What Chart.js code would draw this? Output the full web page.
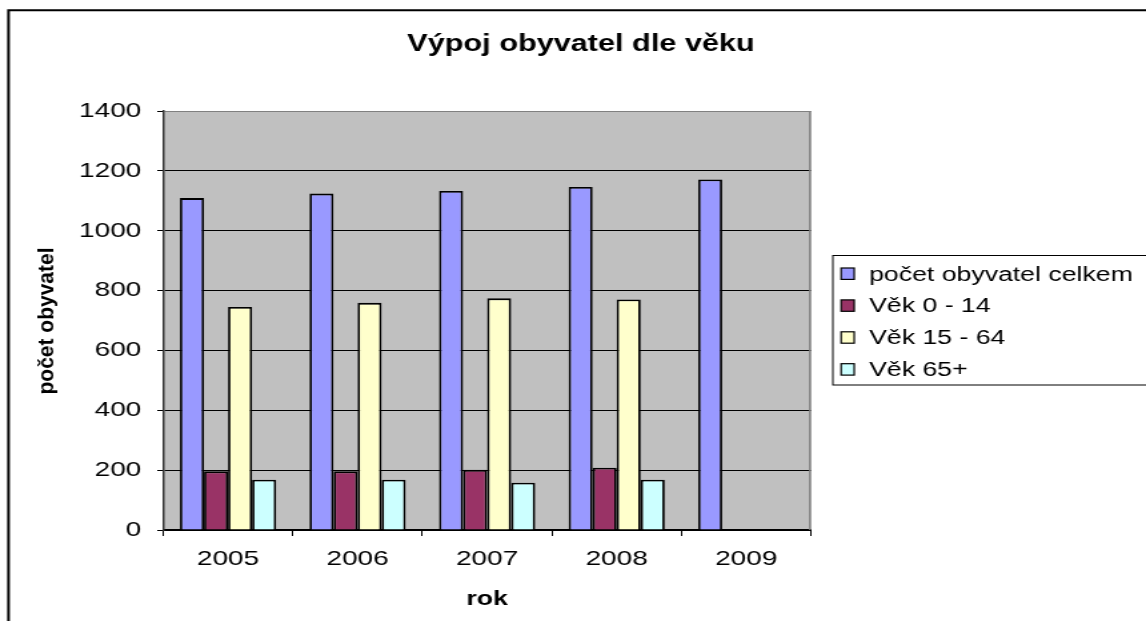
<!DOCTYPE html>
<html><head><meta charset="utf-8">
<script src="https://cdn.jsdelivr.net/npm/chart.js@4/dist/chart.umd.min.js"></script>
<style>html,body{margin:0;padding:0;background:#fff;overflow:hidden}canvas{display:block}</style>
</head><body>
<canvas id="c" width="860" height="621" style="width:1146px;height:621px"></canvas>
<script>
const categories = ['2005', '2006', '2007', '2008', '2009'];
const seriesNames = ['počet obyvatel celkem', 'Věk 0 - 14', 'Věk 15 - 64', 'Věk 65+'];
const totalPop = [1109, 1124, 1133, 1146, 1171];
const age0to14 = [196, 196, 201, 208, null];
const age15to64 = [745, 759, 774, 770, null];
const age65plus = [168, 168, 158, 168, null];
const yTicks = [0, 200, 400, 600, 800, 1000, 1200, 1400];
const chartTitle = 'Výpoj obyvatel dle věku';
const yAxisTitle = 'počet obyvatel';
const xAxisTitle = 'rok';
const seriesColors = ['#9999FF', '#993366', '#FFFFCC', '#CCFFFF'];

const FONT = '"Liberation Sans", Arial, Helvetica, sans-serif';
const S = 1146 / 860; // horizontal stretch of the canvas on screen

const decor = {
  id: 'decor',
  beforeDraw(chart) {
    const {ctx, chartArea: a} = chart;
    ctx.save();
    ctx.fillStyle = '#fff';
    ctx.fillRect(0, 0, chart.width, chart.height);
    ctx.fillStyle = '#C0C0C0';
    ctx.fillRect(a.left, a.top, a.right - a.left, a.bottom - a.top);
    ctx.restore();
  },
  afterDraw(chart) {
    const {ctx, chartArea: a} = chart;
    ctx.save();
    ctx.strokeStyle = '#808080';
    ctx.lineWidth = 1.5;
    ctx.beginPath();
    ctx.moveTo(a.right - 0.75, a.top);
    ctx.lineTo(a.right - 0.75, a.bottom);
    ctx.stroke();
    ctx.strokeStyle = '#000';
    ctx.lineWidth = 2;
    ctx.beginPath();
    ctx.moveTo(6.4, chart.height + 5);
    ctx.lineTo(6.4, 10.3);
    ctx.lineTo(chart.width + 5, 10.3);
    ctx.stroke();
    ctx.fillStyle = '#000';
    ctx.font = 'bold 23px ' + FONT;
    ctx.textAlign = 'center';
    ctx.textBaseline = 'middle';
    ctx.fillText(chartTitle, 436, 45);
    ctx.strokeStyle = '#000';
    ctx.lineWidth = 1;
    ctx.strokeRect(625, 255.5, 400, 129.5);
    ctx.font = '20px ' + FONT;
    ctx.textAlign = 'left';
    chart.data.datasets.forEach((ds, i) => {
      const y = 275 + i * 31.9;
      ctx.fillStyle = ds.backgroundColor;
      ctx.fillRect(631.2, y - 7, 9.8, 11.4);
      ctx.strokeStyle = '#000';
      ctx.lineWidth = 1.2;
      ctx.strokeRect(631.2, y - 7, 9.8, 11.4);
      ctx.fillStyle = '#000';
      ctx.fillText(ds.label, 652.2, y);
    });
    ctx.restore();
    ctx.save();
    ctx.scale(1 / S, 1);
    ctx.translate(47, 321);
    ctx.rotate(-Math.PI / 2);
    ctx.fillStyle = '#000';
    ctx.font = 'bold 21px ' + FONT;
    ctx.textAlign = 'center';
    ctx.textBaseline = 'middle';
    ctx.fillText(yAxisTitle, 0, 0);
    ctx.restore();
  }
};

const seriesData = [totalPop, age0to14, age15to64, age65plus];

new Chart(document.getElementById('c'), {
  type: 'bar',
  data: {
    labels: categories,
    datasets: seriesNames.map((name, i) => ({
      label: name,
      data: seriesData[i],
      backgroundColor: seriesColors[i],
      borderColor: '#000',
      borderWidth: 1.8,
      categoryPercentage: 0.742,
      barPercentage: 1.0
    }))
  },
  options: {
    responsive: false,
    devicePixelRatio: 1,
    animation: false,
    layout: {padding: {left: 0, top: 111, right: 251.4, bottom: 0}},
    plugins: {legend: {display: false}, title: {display: false}, tooltip: {enabled: false}},
    scales: {
      x: {
        grid: {display: true, drawOnChartArea: false, drawTicks: true, tickLength: 6, color: '#000', tickColor: '#000', offset: true, lineWidth: 1},
        border: {display: true, color: '#000', width: 2},
        ticks: {font: {family: FONT, size: 21}, color: '#000', padding: 11, maxRotation: 0, autoSkip: false},
        title: {display: true, text: xAxisTitle, color: '#000', font: {family: FONT, size: 20, weight: 'bold'}, padding: {top: 0, bottom: 10}},
        afterFit(s) { s.height = 91; }
      },
      y: {
        min: 0, max: 1400,
        afterBuildTicks(s) { s.ticks = yTicks.map(v => ({value: v})); },
        ticks: {font: {family: FONT, size: 21}, color: '#000', padding: 12, callback: v => String(v)},
        grid: {color: c => (c.tick && c.tick.value === 1400) ? '#808080' : '#000', tickColor: '#000', tickLength: 4.5, lineWidth: 1},
        border: {display: true, color: '#333', width: 1.5},
        afterFit(s) { s.width = 122.5; }
      }
    }
  },
  plugins: [decor]
});
</script>
</body></html>
